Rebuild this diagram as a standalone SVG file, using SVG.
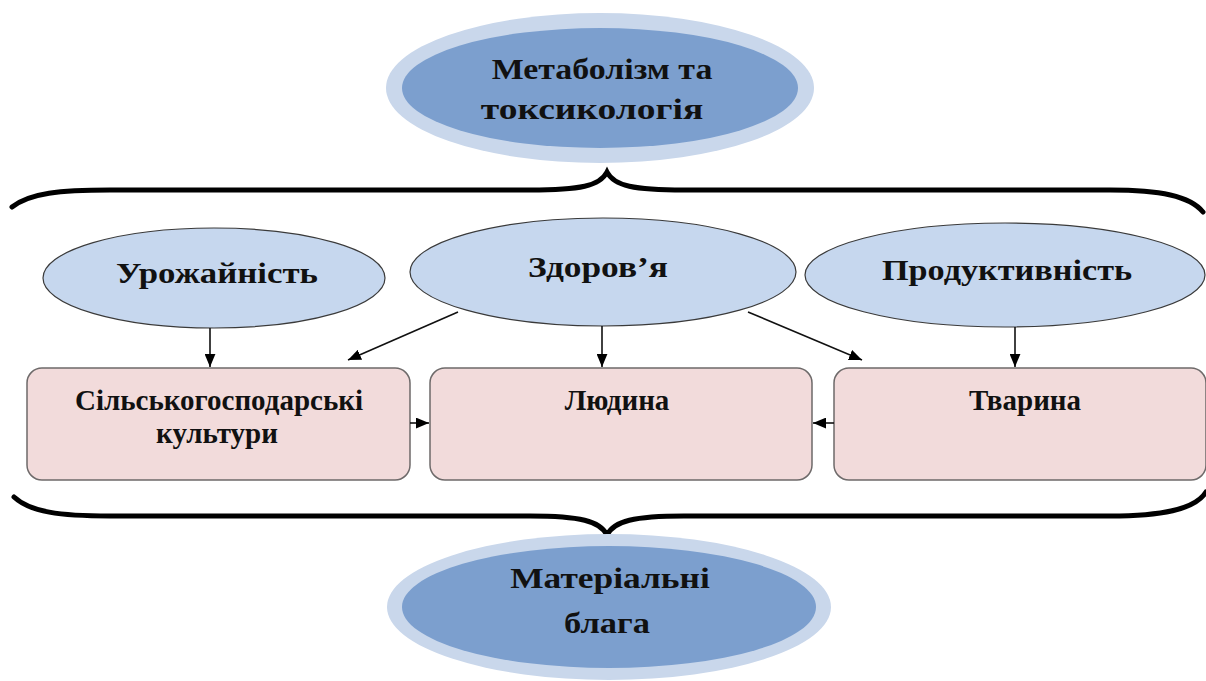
<svg xmlns="http://www.w3.org/2000/svg" width="1206" height="681" viewBox="0 0 1206 681">
<style>
.t{font-family:"Liberation Serif","Times New Roman",serif;font-weight:bold;fill:#111;text-anchor:middle}
.big{font-size:30px}
.mid{font-size:29px}
.sm{font-size:29px}
.ring{fill:#c9d7eb}
.core{fill:#7c9fce}
.oval{fill:#c6d7ee;stroke:#3a3a3a;stroke-width:1.2}
.box{fill:#f2dbdb;stroke:#6e6a6a;stroke-width:1.5}
.brace{fill:none;stroke:#000;stroke-width:5;stroke-linecap:round;stroke-linejoin:miter}
.ln{stroke:#111;stroke-width:1.6;fill:none}
</style>
<defs>
<marker id="ah" viewBox="0 0 12 10" refX="12" refY="5" markerWidth="13" markerHeight="11" markerUnits="userSpaceOnUse" orient="auto">
<path d="M0,0 L12,5 L0,10 z" fill="#000"/>
</marker>
</defs>
<rect width="1206" height="681" fill="#fff"/>
<g id="n-metabolism">
<ellipse class="ring" cx="600" cy="88" rx="214" ry="75"/>
<ellipse class="core" cx="600" cy="88" rx="198" ry="60"/>
<text class="t big" transform="translate(602 79) scale(1.13 1)">Метаболізм та</text>
<text class="t big" transform="translate(592 119) scale(1.25 1)">токсикологія</text>
</g>
<g id="braces">
<path class="brace" d="M12 207 C30 193 60 190 110 190 L530 190 C580 190 600 186 607 172 C614 186 634 190 684 190 L1110 190 C1160 190 1190 196 1203 212"/>
<path class="brace" d="M14 497 C30 512 60 516 110 516 L530 516 C580 516 600 521 607 535 C614 521 634 516 684 516 L1110 516 C1160 516 1195 510 1206 492"/>
</g>
<g id="n-yield">
<ellipse class="oval" cx="214" cy="278" rx="171" ry="50"/>
<text class="t mid" transform="translate(217 283) scale(1.2 1)">Урожайність</text>
</g>
<g id="n-health">
<ellipse class="oval" cx="603" cy="272" rx="193" ry="54"/>
<text class="t mid" transform="translate(598 277) scale(1.22 1)">Здоров’я</text>
</g>
<g id="n-productivity">
<ellipse class="oval" cx="1005" cy="275" rx="200" ry="52"/>
<text class="t mid" transform="translate(1007 280) scale(1.18 1)">Продуктивність</text>
</g>
<g id="n-crops">
<rect class="box" x="27" y="368" width="383" height="112" rx="15"/>
<text class="t sm" x="219" y="410">Сільськогосподарські</text>
<text class="t sm" x="217" y="443">культури</text>
</g>
<g id="n-human">
<rect class="box" x="430" y="368" width="382" height="112" rx="15"/>
<text class="t sm" x="617" y="410">Людина</text>
</g>
<g id="n-animal">
<rect class="box" x="834" y="368" width="372" height="112" rx="15"/>
<text class="t sm" x="1025" y="410">Тварина</text>
</g>
<g id="n-goods">
<ellipse class="ring" cx="609" cy="607" rx="222" ry="73"/>
<ellipse class="core" cx="609" cy="607" rx="207" ry="61"/>
<text class="t big" transform="translate(610 588) scale(1.18 1)">Матеріальні</text>
<text class="t big" transform="translate(607 633) scale(1.15 1)">блага</text>
</g>
<g id="connectors">
<line class="ln" x1="210" y1="328" x2="210" y2="367" marker-end="url(#ah)"/>
<line class="ln" x1="458" y1="312" x2="348" y2="360" marker-end="url(#ah)"/>
<line class="ln" x1="602" y1="326" x2="602" y2="367" marker-end="url(#ah)"/>
<line class="ln" x1="748" y1="312" x2="862" y2="360" marker-end="url(#ah)"/>
<line class="ln" x1="1015" y1="327" x2="1015" y2="367" marker-end="url(#ah)"/>
<line class="ln" x1="410" y1="423" x2="429" y2="423" marker-end="url(#ah)"/>
<line class="ln" x1="834" y1="423" x2="813" y2="423" marker-end="url(#ah)"/>
</g>
</svg>
